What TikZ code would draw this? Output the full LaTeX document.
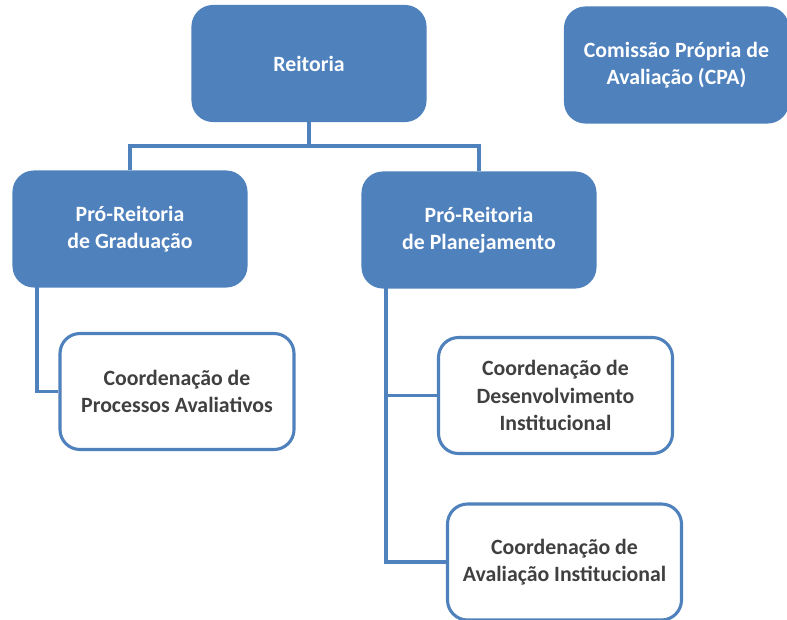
\documentclass[tikz,border=0pt]{standalone}
\usepackage{fontspec}
\setmainfont{Carlito}
\usepackage{tikz}
\usetikzlibrary{positioning}
\usetikzlibrary{calc}

\definecolor{officeblue}{HTML}{4F81BD}
\definecolor{textgray}{HTML}{404040}

\begin{document}
\begin{tikzpicture}[x=0.025cm, y=-0.025cm,
    box/.style={rectangle, rounded corners=20*0.025cm, line width=2.2pt, align=center,
        font=\fontsize{15.5}{19.5}\selectfont\bfseries, inner sep=0pt},
    bluebox/.style={box, draw=officeblue, fill=officeblue, text=white,
        minimum width=232*0.025cm, minimum height=114*0.025cm},
    whitebox/.style={box, draw=officeblue, fill=white, text=textgray,
        minimum width=234*0.025cm, minimum height=116*0.025cm},
    link/.style={draw=officeblue, line width=2.2pt}]
    \useasboundingbox (0,0) rectangle (787,619);

    % the top row
    \node at (309, 63.5)[bluebox] (reitoria) {Reitoria};
    \node at (676.5, 65)[bluebox, minimum width=222*0.025cm] (cpa) {Comissão Própria de\\Avaliação (CPA)};

    % the pro-reitorias
    \node at (130, 229)[bluebox] (grad) {Pró-Reitoria\\de Graduação};
    \node at (479, 230)[bluebox] (plan) {Pró-Reitoria\\de Planejamento};

    % the coordenacoes
    \node at (177, 391.5)[whitebox] (proc) {Coordenação de\\Processos Avaliativos};
    \node at (555.5, 395.5)[whitebox] (desenv) {Coordenação de\\Desenvolvimento\\Institucional};
    \node at (564.5, 562)[whitebox] (avalinst) {Coordenação de\\Avaliação Institucional};

    % the connectors
    \coordinate (hub) at (309, 146);
    \coordinate (gradDrop) at (37, 286);
    \coordinate (planDrop) at (386, 287);
    \draw [link](reitoria.south) to (hub) -| (grad.north);
    \draw [link](hub) -| (plan.north);
    \draw [link](gradDrop) |- (proc.west);
    \draw [link](planDrop) |- (avalinst.west);
    \draw [link](planDrop |- desenv.west) to (desenv.west);
\end{tikzpicture}
\end{document}
